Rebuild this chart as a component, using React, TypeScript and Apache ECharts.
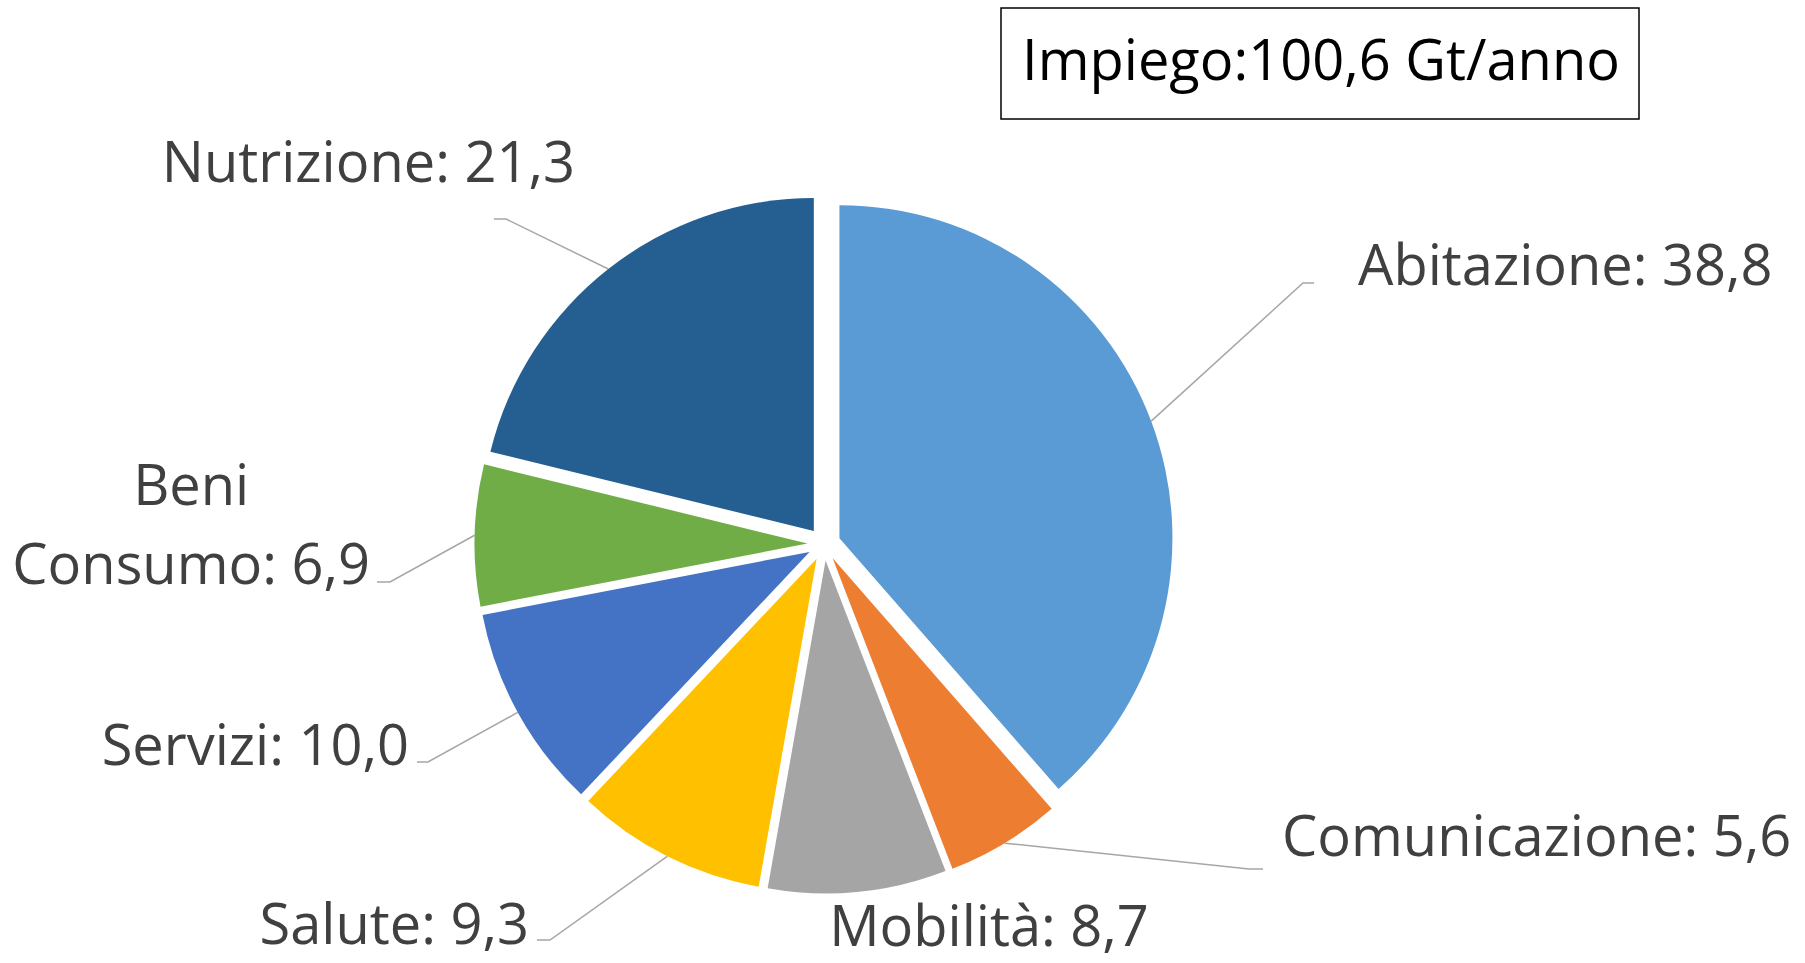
import React, { useEffect, useRef } from "react";
import * as echarts from "echarts";

// ---- data ----
const CATEGORIES = ["Abitazione", "Comunicazione", "Mobilità", "Salute", "Servizi", "Beni Consumo", "Nutrizione"];
const VALUES = [38.8, 5.6, 8.7, 9.3, 10.0, 6.9, 21.3];
const TOTAL_LABEL = "Impiego:100,6 Gt/anno";

// ---- styles ----
const COLORS = ["#5B9BD5", "#ED7D31", "#A5A5A5", "#FFC000", "#4472C4", "#70AD47", "#255E91"];
const FONT = "'Open Sans', 'Noto Sans', sans-serif";
const TEXT_COLOR = "#404040";
const FONT_SIZE = 56;
const PIE_CENTER = [824, 544];
const PIE_RADIUS = 333;
const EXPLOSION = 16.5;
// label text anchors: x, y (middle), align
const LABEL_ANCHORS: [number, number, string][] = [
  [1358, 263, "left"],
  [1282, 834, "left"],
  [989, 924, "center"],
  [529, 922, "right"],
  [409, 743, "right"],
  [370, 522, "right"],
  [575, 160, "right"],
];
// leader line bend + end points (null = no leader)
const LEADER_BENDS: ([number, number] | null)[] = [[1303, 283], [1249, 869], null, [550, 940], [428, 762], [390, 582], [506, 219]];
const LEADER_ENDS: ([number, number] | null)[] = [[1314, 283], [1263, 869], null, [537, 940], [417, 762], [377, 582], [494, 219]];

const fmt = (v: number) => v.toFixed(1).replace(".", ",");

export default function App() {
  const ref = useRef<HTMLDivElement>(null);
  useEffect(() => {
    if (!ref.current) return;
    const chart = echarts.init(ref.current, undefined, { renderer: "svg" });
    const sliceData = CATEGORIES.map((name, i) => ({
      name,
      value: VALUES[i],
      selected: true,
      itemStyle: { color: COLORS[i] },
      select: { itemStyle: { color: COLORS[i], borderWidth: 0 } },
    }));
    const labelData = CATEGORIES.map((name, i) => ({
      name,
      value: VALUES[i],
      labelLine: { show: LEADER_BENDS[i] !== null },
    }));
    chart.setOption({
      animation: false,
      backgroundColor: "#ffffff",
      graphic: [
        {
          type: "group",
          children: [
            {
              type: "rect",
              shape: { x: 1001, y: 8, width: 638, height: 111 },
              style: { fill: "#ffffff", stroke: "#000000", lineWidth: 1.5 },
            },
            {
              type: "text",
              x: 1321,
              y: 58,
              style: {
                text: TOTAL_LABEL,
                fontFamily: FONT,
                fontSize: FONT_SIZE,
                fill: "#000000",
                align: "center",
                verticalAlign: "middle",
              },
            },
          ],
        },
      ],
      series: [
        {
          type: "pie",
          center: PIE_CENTER,
          radius: PIE_RADIUS,
          startAngle: 90,
          clockwise: true,
          selectedMode: "multiple",
          selectedOffset: EXPLOSION,
          avoidLabelOverlap: false,
          emphasis: { disabled: true },
          itemStyle: { borderWidth: 0 },
          label: { show: false },
          labelLine: { show: false },
          data: sliceData,
        },
        {
          // label layer: invisible sectors at the exploded radius, carrying labels + leader lines
          type: "pie",
          center: PIE_CENTER,
          radius: PIE_RADIUS + EXPLOSION,
          startAngle: 90,
          clockwise: true,
          silent: true,
          selectedMode: false,
          avoidLabelOverlap: false,
          emphasis: { disabled: true },
          itemStyle: { color: "rgba(0,0,0,0)", borderWidth: 0 },
          label: {
            show: true,
            position: "outside",
            fontFamily: FONT,
            fontSize: FONT_SIZE,
            color: TEXT_COLOR,
            lineHeight: 79,
            formatter: (p: any) => {
              const words = String(p.name).split(" ");
              if (words.length > 1) {
                return `{c|${words.slice(0, -1).join(" ")}}\n{r|${words[words.length - 1]}: ${fmt(p.value)}}`;
              }
              return `${p.name}: ${fmt(p.value)}`;
            },
            rich: {
              c: { fontFamily: FONT, fontSize: FONT_SIZE, color: TEXT_COLOR, lineHeight: 79, align: "center" },
              r: { fontFamily: FONT, fontSize: FONT_SIZE, color: TEXT_COLOR, lineHeight: 79, align: "right" },
            },
          },
          labelLine: {
            show: true,
            length: 20,
            length2: 10,
            smooth: false,
            lineStyle: { color: "#A6A6A6", width: 1.5 },
          },
          labelLayout: (params: any) => {
            const i = params.dataIndex;
            const [x, y, align] = LABEL_ANCHORS[i];
            const res: any = { x, y, align, verticalAlign: "middle" };
            const bend = LEADER_BENDS[i];
            const end = LEADER_ENDS[i];
            if (bend && end && params.labelLinePoints) {
              res.labelLinePoints = [params.labelLinePoints[0], bend, end];
            }
            return res;
          },
          data: labelData,
        },
      ],
    });
    return () => chart.dispose();
  }, []);
  return <div ref={ref} style={{ position: "fixed", left: 0, top: 0, width: "1805px", height: "963px" }} />;
}
